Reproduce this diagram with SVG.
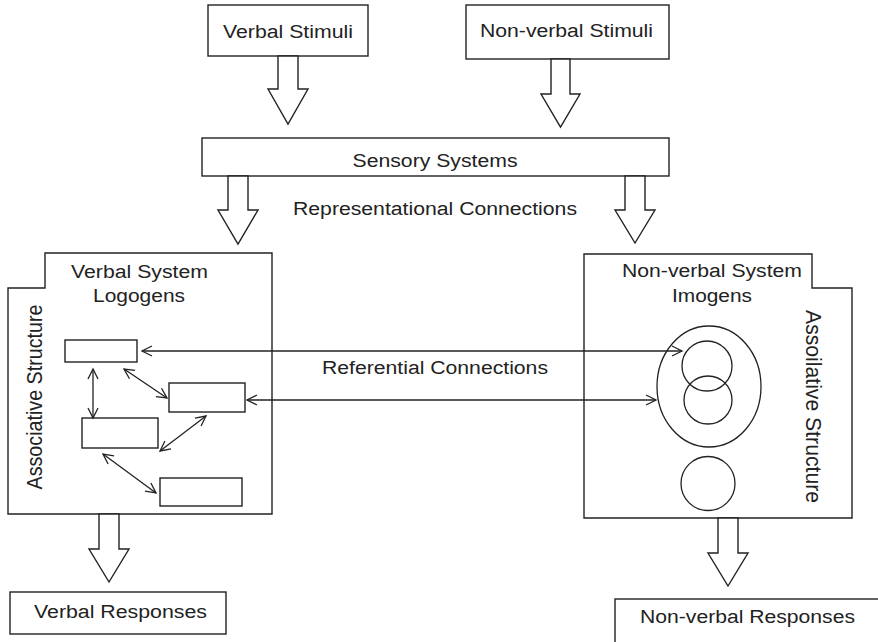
<svg xmlns="http://www.w3.org/2000/svg" width="878" height="642" viewBox="0 0 878 642">
<style>
.box{fill:#fff;stroke:#222;stroke-width:1.4}
.blk{fill:#fff;stroke:#222;stroke-width:1.4;stroke-linejoin:miter}
.ln{fill:none;stroke:#222;stroke-width:1.3}
.t{font-family:"Liberation Sans",Arial,sans-serif;font-size:18px;fill:#222;text-anchor:middle}
.el{fill:none;stroke:#222;stroke-width:1.3}
</style>
<defs>
<marker id="ah" markerWidth="12" markerHeight="12" refX="0" refY="0" orient="auto-start-reverse" markerUnits="userSpaceOnUse" overflow="visible">
<path d="M-10,-5 L0,0 L-10,5" fill="none" stroke="#222" stroke-width="1.3"/>
</marker>
</defs>
<rect width="878" height="642" fill="#fff"/>

<g id="verbal-stimuli">
<rect class="box" x="208" y="5" width="160" height="51"/>
<text class="t" x="288" y="38" textLength="130" lengthAdjust="spacingAndGlyphs">Verbal Stimuli</text>
</g>
<g id="nonverbal-stimuli">
<rect class="box" x="466" y="5" width="203" height="54"/>
<text class="t" x="566.5" y="37" textLength="173" lengthAdjust="spacingAndGlyphs">Non-verbal Stimuli</text>
</g>
<g id="sensory-systems">
<rect class="box" x="202" y="138" width="467" height="38"/>
<text class="t" x="435" y="167" textLength="165" lengthAdjust="spacingAndGlyphs">Sensory Systems</text>
</g>
<g id="representational-label">
<text class="t" x="435" y="215" textLength="284" lengthAdjust="spacingAndGlyphs">Representational Connections</text>
</g>

<g id="verbal-system">
<path class="box" d="M45,253 L272,253 L272,514 L8,514 L8,288 L45,288 Z"/>
<text class="t" x="139.5" y="278" textLength="137" lengthAdjust="spacingAndGlyphs">Verbal System</text>
<text class="t" x="139" y="302" textLength="92" lengthAdjust="spacingAndGlyphs">Logogens</text>
<text class="t" transform="translate(42,397) scale(1.2,1) rotate(-90)" x="0" y="0" font-size="19.5" textLength="185" lengthAdjust="spacingAndGlyphs">Associative Structure</text>
<g id="logogen-1"><rect class="box" x="65" y="340" width="72" height="22"/></g>
<g id="logogen-2"><rect class="box" x="169" y="383" width="76" height="29"/></g>
<g id="logogen-3"><rect class="box" x="82" y="418" width="76" height="30"/></g>
<g id="logogen-4"><rect class="box" x="160" y="478" width="82" height="28"/></g>
</g>

<g id="nonverbal-system">
<path class="box" d="M584,254 L812,254 L812,288 L852,288 L852,518 L584,518 Z"/>
<text class="t" x="712" y="277" textLength="180" lengthAdjust="spacingAndGlyphs">Non-verbal System</text>
<text class="t" x="712" y="302" textLength="80" lengthAdjust="spacingAndGlyphs">Imogens</text>
<text class="t" transform="translate(806,406.5) scale(1.2,1) rotate(90)" x="0" y="0" font-size="19.5" textLength="193" lengthAdjust="spacingAndGlyphs">Assoilative Structure</text>
<g id="imogen-group"><ellipse class="el" cx="709" cy="386.5" rx="52" ry="60.5"/></g>
<g id="imogen-1"><circle class="el" cx="707" cy="366" r="25"/></g>
<g id="imogen-2"><circle class="el" cx="708" cy="400" r="24"/></g>
<g id="imogen-3"><circle class="el" cx="708" cy="483.5" r="27"/></g>
</g>

<g id="verbal-responses">
<rect class="box" x="10" y="592" width="216" height="42"/>
<text class="t" x="120.5" y="618" textLength="173" lengthAdjust="spacingAndGlyphs">Verbal Responses</text>
</g>
<g id="nonverbal-responses">
<rect class="box" x="615" y="599" width="300" height="80"/>
<text class="t" x="747.5" y="623" textLength="215" lengthAdjust="spacingAndGlyphs">Non-verbal Responses</text>
</g>

<g id="referential-label">
<text class="t" x="435" y="374" textLength="226" lengthAdjust="spacingAndGlyphs">Referential Connections</text>
</g>

<g id="connectors">
<polygon class="blk" points="278,56 298,56 298,89 308,89 288,124 268,89 278,89"/>
<polygon class="blk" points="551,59 570,59 570,94 580,94 560.5,127 541,94 551,94"/>
<polygon class="blk" points="228,176 248,176 248,210 258,210 238,244 218,210 228,210"/>
<polygon class="blk" points="625,176 645,176 645,210 655,210 635,243 615,210 625,210"/>
<polygon class="blk" points="99,514 119,514 119,549 129,549 109,582 89,549 99,549"/>
<polygon class="blk" points="718,518 738,518 738,553 748,553 728,586 708,553 718,553"/>
<line class="ln" x1="142" y1="351" x2="682" y2="351" marker-start="url(#ah)" marker-end="url(#ah)"/>
<line class="ln" x1="247" y1="400" x2="656" y2="400" marker-start="url(#ah)" marker-end="url(#ah)"/>
<line class="ln" x1="93" y1="369" x2="93" y2="418" marker-start="url(#ah)" marker-end="url(#ah)"/>
<line class="ln" x1="124" y1="369" x2="167" y2="398" marker-start="url(#ah)" marker-end="url(#ah)"/>
<line class="ln" x1="206" y1="416" x2="160" y2="451" marker-start="url(#ah)" marker-end="url(#ah)"/>
<line class="ln" x1="103" y1="454" x2="156" y2="493" marker-start="url(#ah)" marker-end="url(#ah)"/>
</g>
</svg>
